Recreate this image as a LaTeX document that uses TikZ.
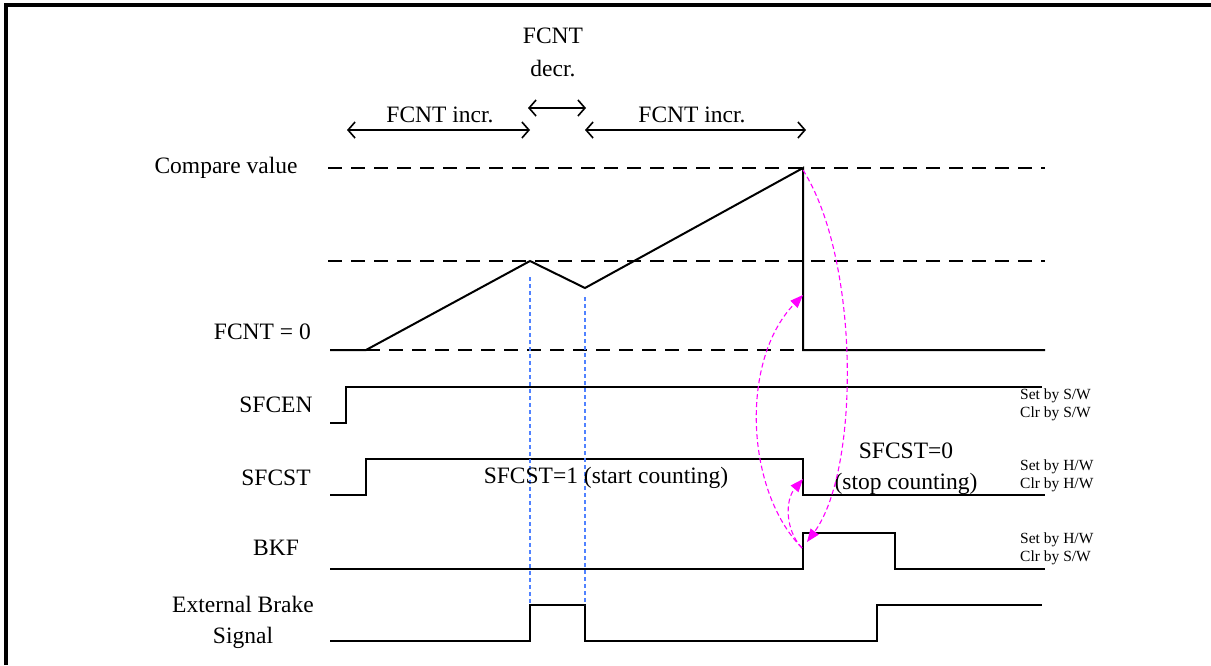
\documentclass[tikz,border=0pt]{standalone}
\usepackage{fontspec}
\setmainfont{Liberation Serif}
\usetikzlibrary{arrows.meta}
\definecolor{magc}{RGB}{255,0,255}
\definecolor{guidec}{RGB}{80,130,255}
\begin{document}
\begin{tikzpicture}[x=1pt,y=-1pt,
  sig/.style={line width=2pt,black},
  dashline/.style={line width=2pt,dash pattern=on 14pt off 9pt},
  guide/.style={guidec,line width=1.3pt,dash pattern=on 4pt off 3pt},
  mag/.style={magc,line width=1.1pt,dash pattern=on 5pt off 3pt,-{Triangle[length=13pt,width=10pt]}},
  lbl/.style={font=\fontsize{23.5}{25}\selectfont,inner sep=0pt},
  small/.style={font=\fontsize{15.5}{17}\selectfont,inner sep=0pt,anchor=west},
  dim/.style={line width=1.6pt,{Straight Barb[length=7pt,width=16pt]}-{Straight Barb[length=7pt,width=16pt]}}]
\useasboundingbox (0,0) rectangle (1211,665);
% frame
\draw[line width=3.5pt] (6,665) -- (6,5) -- (1211,5);
% dashed reference lines
\draw[dashline] (328,168) -- (1045,168);
\draw[dashline] (328,261) -- (1045,261);
\draw[dashline] (366,350) -- (803,350);
% FCNT waveform
\draw[sig] (330,350) -- (366,350) -- (530,261) -- (585,288) -- (803,168) -- (803,350) -- (1045,350);
% SFCEN
\draw[sig] (330,423) -- (346,423) -- (346,387) -- (1042,387);
% SFCST
\draw[sig] (330,495) -- (366,495) -- (366,459) -- (803,459) -- (803,495) -- (1045,495);
% BKF
\draw[sig] (330,569) -- (803,569) -- (803,533) -- (895,533) -- (895,569) -- (1045,569);
% External Brake Signal
\draw[sig] (330,641) -- (530,641) -- (530,605) -- (585,605) -- (585,641) -- (877,641) -- (877,605) -- (1042,605);
% blue guides
\draw[guide] (530,277) -- (530,605);
\draw[guide] (585,297) -- (585,605);
% signal labels
\node[lbl] (cmp) at (226,168) {Compare value};
\node[lbl,anchor=east] (zero) at (311,332) {FCNT = 0};
\node[lbl] (sfcen) at (276,405) {SFCEN};
\node[lbl] (sfcst) at (276,478) {SFCST};
\node[lbl] (bkf) at (276,548) {BKF};
\node[lbl,align=center,font=\fontsize{23.5}{31}\selectfont] (ext) at (243,622) {External Brake\\Signal};
% top annotations
\node[lbl,align=center,font=\fontsize{23.5}{33}\selectfont] (dec) at (553,52) {FCNT\\decr.};
\coordinate (a1) at (347,130); \coordinate (a2) at (530,130);
\coordinate (b1) at (528,108); \coordinate (b2) at (586,108);
\coordinate (c1) at (585,130); \coordinate (c2) at (806,130);
\draw[dim] (a1) -- (a2);
\draw[dim] (b1) -- (b2);
\draw[dim] (c1) -- (c2);
\node[lbl] (inc1) at (440,115) {FCNT incr.};
\node[lbl] (inc2) at (692,115) {FCNT incr.};
% state texts
\node[lbl] (st1) at (606,478) {SFCST=1 (start counting)};
\node[lbl,align=center,font=\fontsize{23.5}{31}\selectfont] (st0) at (906,469) {SFCST=0\\(stop counting)};
% right side notes
\node[small] (n1) at (1020,396) {Set by S/W};
\node[small] (n2) at (1020,414) {Clr by S/W};
\node[small] (n3) at (1020,467) {Set by H/W};
\node[small] (n4) at (1020,485) {Clr by H/W};
\node[small] (n5) at (1020,540) {Set by H/W};
\node[small] (n6) at (1020,558) {Clr by S/W};
% magenta arrows
\coordinate (peak) at (803,170);
\coordinate (bkfrise) at (802,548);
\coordinate (bkftip) at (807,542);
\coordinate (fcnttip) at (803,295);
\coordinate (sfcsttip) at (803,479);
\draw[mag] (peak) .. controls (860,260) and (860,470) .. (bkftip);
\draw[mag] (bkfrise) .. controls (745,490) and (740,360) .. (fcnttip);
\draw[mag] (bkfrise) .. controls (785,530) and (785,500) .. (sfcsttip);
\end{tikzpicture}
\end{document}
